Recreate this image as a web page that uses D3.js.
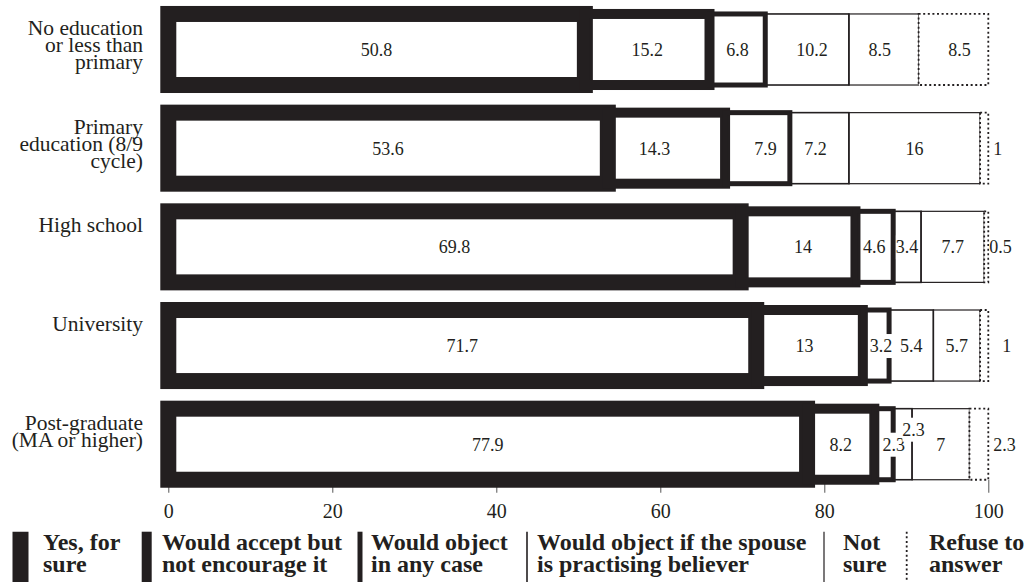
<!DOCTYPE html>
<html><head><meta charset="utf-8">
<script src="https://cdn.jsdelivr.net/npm/d3@7"></script>
<style>
html,body{margin:0;padding:0;background:#fff;}
svg{display:block;}
</style></head>
<body>
<svg id="chart" width="1030" height="582"></svg>
<script>
// ---------- DATA ----------
const categories = [
  "No education\nor less than\nprimary",
  "Primary\neducation (8/9\ncycle)",
  "High school",
  "University",
  "Post-graduate\n(MA or higher)"
];
const seriesNames = [
  "Yes, for\nsure",
  "Would accept but\nnot encourage it",
  "Would object\nin any case",
  "Would object if the spouse\nis practising believer",
  "Not\nsure",
  "Refuse to\nanswer"
];
const yesForSure         = [50.8, 53.6, 69.8, 71.7, 77.9];
const acceptNotEncourage = [15.2, 14.3, 14,   13,   8.2];
const objectAnyCase      = [6.8,  7.9,  4.6,  3.2,  2.3];
const objectIfBeliever   = [10.2, 7.2,  3.4,  5.4,  2.3];
const notSure            = [8.5,  16,   7.7,  5.7,  7];
const refuseToAnswer     = [8.5,  1,    0.5,  1,    2.3];
const tickValues = [0, 20, 40, 60, 80, 100];

// ---------- STYLE / LAYOUT ----------
const W = 1030, H = 582;
const ink = "#231f20";
const serif = "'Liberation Serif', 'DejaVu Serif', 'Times New Roman', serif";
const strokeWidths = [16, 10, 5, 1.6, 1.2, 1.8];
const dashes = [null, null, null, null, null, "2,2.6"];
// label nudges for readability (row-series)
const nudges = {
  "0-3": {dx: 5}, "0-4": {dx: -4}, "0-5": {dx: 6},
  "1-1": {dx: -12}, "1-2": {dx: 8}, "1-3": {dx: -4},
  "2-1": {dx: 5}, "2-5": {dx: -4},
  "3-1": {dx: -5}, "3-2": {dx: 5}, "3-5": {dx: 9},
  "4-2": {dx: 10}, "4-3": {dx: 11, dy: -15}
};
const legendLayout = [ // swatch centre, text start
  [20.5, 43], [146.7, 162], [360, 371], [527, 537], [824, 843], [906.7, 929]
];

const svg = d3.select("#chart");
svg.append("rect").attr("width", W).attr("height", H).attr("fill", "#fff");

const series = [yesForSure, acceptNotEncourage, objectAnyCase, objectIfBeliever, notSure, refuseToAnswer];
const keys = seriesNames.map((d, j) => "s" + j);
const table = categories.map((c, i) => {
  const o = {cat: i};
  keys.forEach((k, j) => o[k] = series[j][i]);
  return o;
});
const stacked = d3.stack().keys(keys)(table);

const x = d3.scaleLinear().domain([0, 100]).range([168.3, 988.3]);
const y = d3.scaleBand().domain(d3.range(categories.length))
  .range([0.15, 493.55]).paddingInner(0.28).paddingOuter(0.14);
const bw = y.bandwidth();

// ---------- AXIS (under bars) ----------
const axisY = y(categories.length - 1) + bw;
const ax = svg.append("g").attr("transform", `translate(0,${axisY})`)
  .call(d3.axisBottom(x).tickValues(tickValues).tickSize(13).tickFormat(d3.format("d")));
ax.select(".domain").remove();
ax.selectAll(".tick line").attr("stroke", "#555").attr("stroke-width", 1);
ax.selectAll(".tick text")
  .attr("font-family", serif).attr("font-size", 20).attr("fill", ink)
  .attr("y", 518 - axisY).attr("dy", null);

// ---------- BARS ----------
const segs = [];
stacked.forEach((layer, j) => layer.forEach((d, i) => segs.push({row: i, ser: j, x0: d[0], x1: d[1], v: series[j][i]})));

const barG = svg.append("g");
// white fills
barG.selectAll("rect.fill").data(segs.filter(s => s.ser < 5)).join("rect")
  .attr("class", "fill")
  .attr("x", d => x(d.x0)).attr("y", d => y(d.row))
  .attr("width", d => x(d.x1) - x(d.x0)).attr("height", bw)
  .attr("fill", "#fff");
// strokes for solid segments
barG.selectAll("rect.stroke").data(segs.filter(s => s.ser < 5)).join("rect")
  .attr("class", "stroke")
  .attr("x", d => x(d.x0)).attr("y", d => y(d.row))
  .attr("width", d => x(d.x1) - x(d.x0)).attr("height", bw)
  .attr("fill", "none").attr("stroke", ink)
  .attr("stroke-width", d => strokeWidths[d.ser]);
// dotted segment on top
barG.selectAll("rect.dot").data(segs.filter(s => s.ser === 5)).join("rect")
  .attr("class", "dot")
  .attr("x", d => x(d.x0)).attr("y", d => y(d.row))
  .attr("width", d => x(d.x1) - x(d.x0)).attr("height", bw)
  .attr("fill", "#fff").attr("stroke", ink)
  .attr("stroke-width", strokeWidths[5]).attr("stroke-dasharray", dashes[5]);

// ---------- VALUE LABELS ----------
const labG = svg.append("g");
segs.forEach(s => {
  const n = nudges[s.row + "-" + s.ser] || {};
  const outside = s.ser === 5 && s.v < 3;
  const tx = outside ? x(s.x1) + 5 + (n.dx || 0) : (x(s.x0) + x(s.x1)) / 2 + (n.dx || 0);
  const ty = y(s.row) + bw / 2 + 6.5 + (n.dy || 0);
  const g = labG.append("g");
  const t = g.append("text")
    .attr("x", tx).attr("y", ty)
    .attr("text-anchor", outside ? "start" : "middle")
    .attr("font-family", serif).attr("font-size", 18).attr("fill", ink)
    .text(String(s.v));
  const bb = t.node().getBBox();
  g.insert("rect", "text")
    .attr("x", bb.x).attr("y", bb.y - 2)
    .attr("width", bb.width).attr("height", bb.height + 4)
    .attr("fill", "#fff");
});

// ---------- CATEGORY LABELS ----------
categories.forEach((c, i) => {
  const lines = c.split("\n");
  const t = svg.append("text")
    .attr("text-anchor", "end")
    .attr("font-family", serif).attr("font-size", 21.5).attr("fill", ink);
  lines.forEach((ln, k) => {
    t.append("tspan").attr("x", 143).attr("y", y(i) + 21 + k * 17).text(ln);
  });
});

// ---------- LEGEND ----------
const lg = svg.append("g");
seriesNames.forEach((name, j) => {
  const [sx, tx] = legendLayout[j];
  lg.append("line")
    .attr("x1", sx).attr("x2", sx).attr("y1", 531.7).attr("y2", 600)
    .attr("stroke", ink).attr("stroke-width", strokeWidths[j])
    .attr("stroke-dasharray", dashes[j]);
  const t = lg.append("text")
    .attr("font-family", serif).attr("font-size", 24).attr("font-weight", "bold").attr("fill", ink);
  name.split("\n").forEach((ln, k) => {
    t.append("tspan").attr("x", tx).attr("y", 550 + k * 22).text(ln);
  });
});
</script>
</body></html>
